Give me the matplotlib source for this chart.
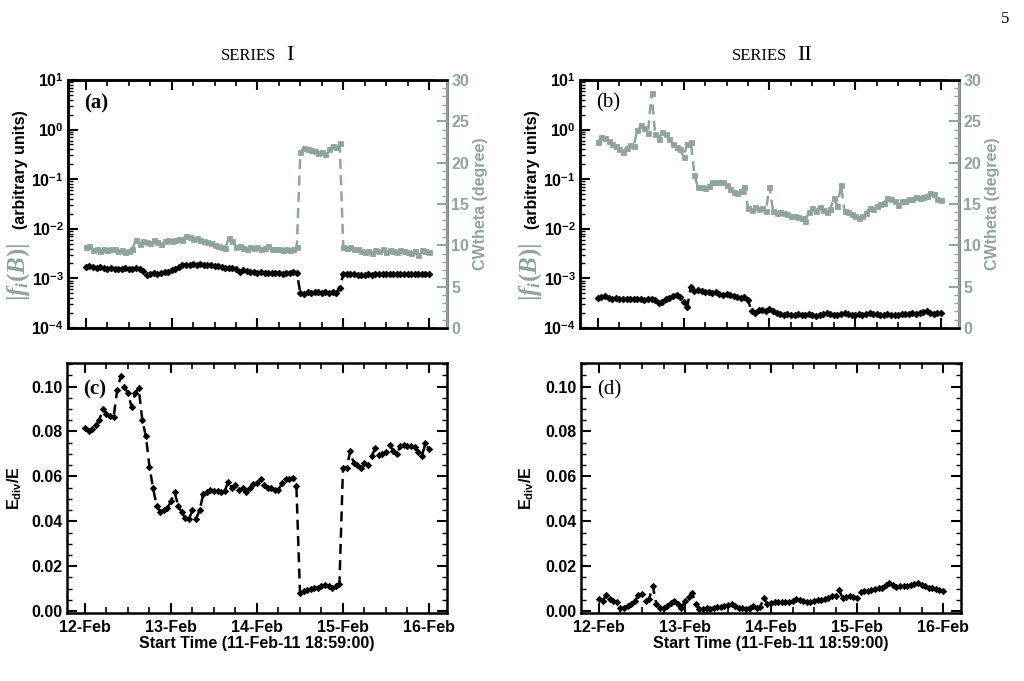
import numpy as np
import matplotlib
matplotlib.use('Agg')
import matplotlib.pyplot as plt
from matplotlib.ticker import MultipleLocator, FixedLocator, FuncFormatter, NullFormatter

plt.rcParams['font.family'] = ['Liberation Sans', 'DejaVu Sans']
plt.rcParams['font.weight'] = 'bold'
plt.rcParams['mathtext.fontset'] = 'custom'
plt.rcParams['mathtext.rm'] = 'Liberation Serif'
plt.rcParams['mathtext.it'] = 'Liberation Serif:italic'
plt.rcParams['mathtext.bf'] = 'Liberation Sans:bold'

GRAY = '#8fa59b'

# hourly samples, hour 0 = 12-Feb 00:00
hours = np.arange(97)
days = hours / 24.0
day_ticks = [0, 1, 2, 3, 4]
day_labels = ['12-Feb', '13-Feb', '14-Feb', '15-Feb', '16-Feb']

# series I, |f_i(B)| in units of 1e-3
fib_1 = np.array([
    1.70, 1.78, 1.72, 1.65, 1.70, 1.60, 1.58, 1.62, 1.55, 1.58, 1.55, 1.60,
    1.55, 1.58, 1.60, 1.52, 1.38, 1.15, 1.20, 1.30, 1.25, 1.30, 1.35, 1.32,
    1.45, 1.58, 1.70, 1.85, 1.90, 1.85, 1.95, 1.88, 1.92, 1.85, 1.90, 1.82,
    1.75, 1.80, 1.70, 1.65, 1.62, 1.60, 1.52, 1.35, 1.45, 1.40, 1.36, 1.35,
    1.30, 1.32, 1.28, 1.30, 1.26, 1.28, 1.30, 1.25, 1.28, 1.30, 1.32, 1.30,
    0.50, 0.48, 0.52, 0.50, 0.53, 0.52, 0.50, 0.53, 0.50, 0.52, 0.50, 0.65,
    1.20, 1.25, 1.22, 1.20, 1.18, 1.15, 1.18, 1.20, 1.15, 1.20, 1.22, 1.20,
    1.25, 1.20, 1.22, 1.25, 1.20, 1.25, 1.22, 1.20, 1.25, 1.20, 1.22, 1.25,
    1.22]) * 1e-3

# series I, CWtheta (degree)
cw_1 = [
    9.8, 9.9, 9.4, 9.5, 9.3, 9.6, 9.4, 9.5, 9.6, 9.3, 9.4, 9.2,
    9.3, 9.6, 10.6, 10.2, 10.5, 10.4, 10.3, 10.6, 10.4, 10.2, 10.5, 10.6,
    10.5, 10.6, 10.8, 10.7, 11.1, 11.0, 10.8, 10.9, 10.6, 10.5, 10.4, 10.3,
    10.0, 9.9, 9.8, 9.7, 10.9, 10.5, 9.8, 9.9, 9.7, 9.6, 9.8, 9.7,
    9.8, 9.6, 9.7, 9.9, 9.6, 9.5, 9.6, 9.4, 9.5, 9.4, 9.5, 9.8,
    21.3, 21.8, 21.6, 21.5, 21.4, 21.2, 21.3, 21.1, 21.6, 22.0, 21.9, 22.4,
    9.8, 9.7, 9.8, 9.6, 9.5, 9.3, 9.2, 9.3, 9.1, 9.4, 9.3, 9.5,
    9.2, 9.4, 9.3, 9.2, 9.4, 9.3, 9.2, 9.1, 9.3, 8.8, 9.4, 9.3,
    9.2]

# series II, |f_i(B)| in units of 1e-4
fib_2 = np.array([
    4.0, 4.2, 4.4, 4.0, 3.9, 4.0, 3.9, 3.8, 3.9, 3.8, 3.9, 3.8,
    3.9, 3.7, 3.9, 3.8, 3.6, 3.2, 3.4, 3.8, 4.0, 4.4, 4.7, 4.2,
    3.4, 2.7, 6.8, 5.6, 5.8, 5.5, 5.4, 5.3, 5.0, 5.2, 4.8, 4.7,
    4.9, 4.6, 4.4, 4.2, 4.0, 4.2, 3.6, 2.2, 2.0, 2.3, 2.3, 2.2,
    2.4, 2.2, 2.0, 1.9, 1.8, 1.9, 1.85, 1.8, 1.9, 1.8,
    1.85, 1.9, 1.8, 1.75, 1.85, 1.9, 2.0, 1.9, 1.8, 1.85,
    1.9, 2.0, 1.9, 1.85, 1.8, 1.9, 1.85, 1.9, 2.0, 1.95,
    1.9, 1.85, 1.8, 1.9, 1.85, 1.8, 1.85, 1.9, 1.9, 1.95,
    2.0, 1.95, 2.05, 2.1, 2.2, 2.0, 1.95, 2.05, 2.0]) * 1e-4

# series II, CWtheta (degree)
cw_2 = [
    22.5, 23.1, 23.0, 22.6, 22.3, 22.0, 21.6, 21.3, 21.8, 22.1, 22.0, 23.9,
    24.5, 24.2, 23.6, 28.4, 23.5, 22.9, 23.7, 23.5, 22.8, 22.2, 21.9, 21.6,
    20.7, 22.3, 22.5, 18.5, 17.0, 17.1, 16.9, 17.2, 17.6, 17.7, 17.6, 17.7,
    17.3, 16.8, 16.5, 16.3, 16.6, 17.1, 14.5, 14.3, 14.6, 14.4, 14.5, 14.2,
    17.1, 14.2, 13.9, 14.0, 13.9, 13.8, 13.6, 13.5, 13.4, 13.3, 12.9, 14.0,
    14.5, 14.2, 14.6, 14.3, 14.0, 14.4, 15.7, 14.7, 17.3, 14.1, 14.0, 13.8,
    13.6, 13.3, 13.6, 13.9, 14.5, 14.4, 14.8, 15.0, 15.1, 15.7, 15.6, 15.4,
    14.9, 15.3, 15.4, 15.6, 15.6, 15.8, 15.7, 15.9, 16.0, 16.3, 16.2, 15.6,
    15.5]

# E_div/E
ediv_1 = [
    0.0815, 0.0800, 0.0810, 0.0830, 0.0850, 0.0900, 0.0880, 0.0870, 0.0865, 0.0985, 0.1047, 0.1000,
    0.0970, 0.0910, 0.0970, 0.0992, 0.0850, 0.0780, 0.0644, 0.0548, 0.0470, 0.0443, 0.0450, 0.0458,
    0.0490, 0.0530, 0.0470, 0.0440, 0.0415, 0.0410, 0.0450, 0.0410, 0.0450, 0.0520, 0.0530, 0.0540,
    0.0535, 0.0535, 0.0530, 0.0535, 0.0576, 0.0550, 0.0560, 0.0540, 0.0550, 0.0530, 0.0550, 0.0566,
    0.0570, 0.0590, 0.0560, 0.0550, 0.0550, 0.0540, 0.0540, 0.0570, 0.0590, 0.0590, 0.0595, 0.0556,
    0.0081, 0.0088, 0.0095, 0.0100, 0.0104, 0.0105, 0.0112, 0.0118, 0.0110, 0.0103, 0.0112, 0.0120,
    0.0637, 0.0637, 0.0711, 0.0660, 0.0650, 0.0637, 0.0660, 0.0650, 0.0690, 0.0726, 0.0696, 0.0700,
    0.0710, 0.0740, 0.0715, 0.0700, 0.0735, 0.0740, 0.0735, 0.0735, 0.0733, 0.0710, 0.0690, 0.0748,
    0.0720]

ediv_2 = [
    0.0054, 0.0045, 0.0071, 0.0054, 0.0045, 0.0039, 0.0016, 0.0016, 0.0024, 0.0031, 0.0045, 0.0071,
    0.0076, 0.0045, 0.0054, 0.0113, 0.0031, 0.0016, 0.0016, 0.0024, 0.0038, 0.0045, 0.0030, 0.0016,
    0.0045, 0.0062, 0.0081, 0.0030, 0.0009, 0.0009, 0.0012, 0.0009, 0.0016, 0.0018, 0.0020, 0.0024,
    0.0028, 0.0031, 0.0024, 0.0016, 0.0012, 0.0009, 0.0016, 0.0024, 0.0016, 0.0020, 0.0057, 0.0030,
    0.0035, 0.0039, 0.0039, 0.0040, 0.0042, 0.0042, 0.0045, 0.0054, 0.0050, 0.0045, 0.0042, 0.0042,
    0.0046, 0.0050, 0.0050, 0.0055, 0.0060, 0.0066, 0.0068, 0.0095, 0.0057, 0.0065, 0.0069, 0.0062,
    0.0057, 0.0086, 0.0088, 0.0090, 0.0093, 0.0097, 0.0101, 0.0103, 0.0118, 0.0124, 0.0115, 0.0107,
    0.0110, 0.0113, 0.0113, 0.0118, 0.0121, 0.0124, 0.0116, 0.0110, 0.0101, 0.0103, 0.0098, 0.0096,
    0.0090]


def time_axis(ax, labels):
    ax.set_xlim(-0.209, 4.209)
    ax.xaxis.set_major_locator(FixedLocator(day_ticks))
    ax.xaxis.set_minor_locator(MultipleLocator(0.25))
    if labels:
        ax.set_xticklabels(day_labels)
        ax.set_xlabel('Start Time (11-Feb-11 18:59:00)', fontsize=11.5, fontweight='bold', labelpad=1)
    else:
        ax.xaxis.set_major_formatter(NullFormatter())
    ax.tick_params(axis='x', which='both', direction='in', top=True, bottom=True, labelsize=11.5, pad=5)
    ax.tick_params(axis='x', which='major', length=7, width=1.5)
    ax.tick_params(axis='x', which='minor', length=4, width=1.2)
    for s in ax.spines.values():
        s.set_linewidth(1.8)


def log_label(v, pos):
    return '10$^{\\mathbf{%d}}$' % int(round(np.log10(v)))


def top_panel(ax, fib, cw, tag, tag_weight):
    ax.plot(days, fib, color='k', lw=1.8, ls=(0, (4, 2.5)), marker='D', ms=3.4, mew=0.6)
    ax.set_yscale('log')
    ax.set_ylim(1e-4, 10)
    ax.yaxis.set_major_formatter(FuncFormatter(log_label))
    ax.tick_params(axis='y', which='both', direction='in', left=True, right=False, labelsize=11.5, pad=3)
    ax.tick_params(axis='y', which='major', length=7, width=1.5)
    ax.tick_params(axis='y', which='minor', length=3.5, width=1.0)
    time_axis(ax, False)
    ax2 = ax.twinx()
    ax2.plot(days, cw, color=GRAY, lw=1.8, ls=(0, (4, 2.5)), marker='s', ms=3.6, mew=0.6)
    ax2.set_ylim(0, 30)
    ax2.yaxis.set_major_locator(MultipleLocator(5))
    ax2.yaxis.set_minor_locator(MultipleLocator(1))
    ax2.tick_params(axis='y', which='both', direction='in', colors=GRAY, labelsize=11.5, pad=3)
    ax2.tick_params(axis='y', which='major', length=7, width=1.5)
    ax2.tick_params(axis='y', which='minor', length=3.5, width=1.0)
    for s in ax2.spines.values():
        s.set_linewidth(1.8)
    ax2.spines['right'].set_color(GRAY)
    ax2.set_ylabel('CWtheta (degree)', color=GRAY, fontsize=11.5, fontweight='bold', labelpad=3)
    ax.text(0.074, 0.907, tag, transform=ax.transAxes, ha='center', va='center',
            family='Liberation Serif', fontsize=15, fontweight=tag_weight)


def bottom_panel(ax, ediv, tag, tag_weight):
    ax.plot(days, ediv, color='k', lw=1.8, ls=(0, (4, 2.5)), marker='D', ms=3.2, mew=0.6)
    ax.set_ylim(-0.0008, 0.1105)
    ax.yaxis.set_major_locator(MultipleLocator(0.02))
    ax.yaxis.set_minor_locator(MultipleLocator(0.005))
    ax.yaxis.set_major_formatter(FuncFormatter(lambda v, p: '%.2f' % abs(v)))
    ax.tick_params(axis='y', which='both', direction='in', left=True, right=True, labelsize=11.5, pad=3)
    ax.tick_params(axis='y', which='major', length=7, width=1.5)
    ax.tick_params(axis='y', which='minor', length=3.5, width=1.0)
    time_axis(ax, True)
    ax.text(0.074, 0.892, tag, transform=ax.transAxes, ha='center', va='center',
            family='Liberation Serif', fontsize=15, fontweight=tag_weight)


fig = plt.figure(figsize=(10.24, 6.81), dpi=100)
ax_a = fig.add_axes([0.0664, 0.5184, 0.3701, 0.3642])
ax_b = fig.add_axes([0.5664, 0.5184, 0.3701, 0.3642])
ax_c = fig.add_axes([0.0654, 0.0999, 0.3711, 0.3671])
ax_d = fig.add_axes([0.5674, 0.0999, 0.3711, 0.3671])

top_panel(ax_a, fib_1, cw_1, '(a)', 'bold')
top_panel(ax_b, fib_2, cw_2, '(b)', 'normal')
bottom_panel(ax_c, ediv_1, '(c)', 'bold')
bottom_panel(ax_d, ediv_2, '(d)', 'normal')

# left labels of the top panels: |f_i(B)| in gray, the rest in black
for x0 in [0.0, 0.5]:
    fig.text(x0 + 0.0205, 0.751, '(arbitrary units)', rotation=90, ha='center', va='center',
             fontsize=11.5, fontweight='bold')
    fig.text(x0 + 0.0180, 0.601, r'$|f_i(B)|$', rotation=90, ha='center', va='center',
             fontsize=18, color=GRAY)
    fig.text(x0 + 0.0146, 0.283, 'E$_{\\mathbf{div}}$/E', rotation=90, ha='center', va='center',
             fontsize=11.5, fontweight='bold')

# column titles
fig.text(0.2700, 0.912, 'SERIES', ha='right', va='baseline', family='Liberation Serif',
         fontsize=12, fontweight='normal')
fig.text(0.2800, 0.912, 'I', ha='left', va='baseline', family='Liberation Serif',
         fontsize=16, fontweight='normal')
fig.text(0.7690, 0.912, 'SERIES', ha='right', va='baseline', family='Liberation Serif',
         fontsize=12, fontweight='normal')
fig.text(0.7790, 0.912, 'II', ha='left', va='baseline', family='Liberation Serif',
         fontsize=16, fontweight='normal')
fig.text(0.982, 0.972, '5', ha='center', va='center', family='Liberation Serif',
         fontsize=12, fontweight='normal')

fig.savefig('out.png', dpi=100)
